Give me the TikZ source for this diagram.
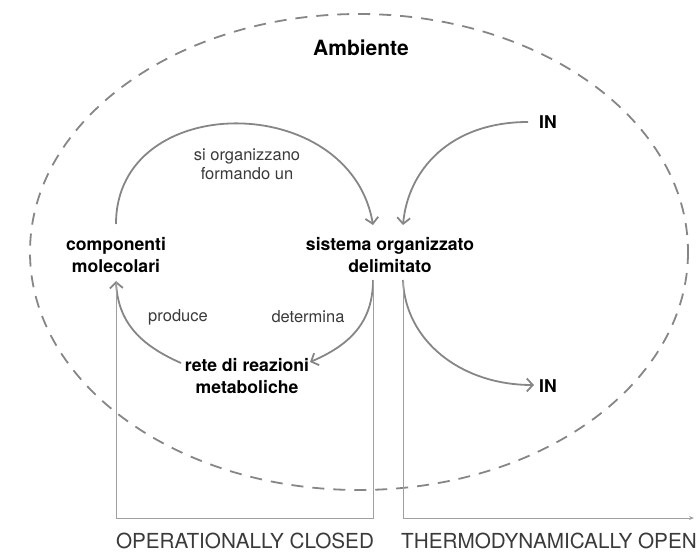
\documentclass[tikz,border=0pt]{standalone}
\usepackage{fontspec}
\setmainfont{TeX Gyre Heros}
\usetikzlibrary{arrows.meta}
\definecolor{linegray}{HTML}{868686}
\definecolor{boxgray}{HTML}{A0A0A0}
\definecolor{textgray}{HTML}{3A3A3A}
\begin{document}
\begin{tikzpicture}[x=1pt,y=-1pt,
  concept/.style={font=\bfseries\fontsize{17.6}{22}\selectfont, align=center, inner sep=0pt},
  verb/.style={font=\fontsize{16.5}{19}\selectfont, text=textgray, align=center, inner sep=0pt},
  caption/.style={font=\fontsize{20.7}{24}\selectfont, text=textgray, inner sep=0pt},
  flow/.style={draw=linegray, line width=1.8pt, -{Straight Barb[length=6pt,width=13pt,line width=1.8pt]}},
  frame/.style={draw=boxgray, line width=1pt},
  env/.style={draw=linegray, line width=1.8pt, dash pattern=on 12pt off 9pt}]
  \useasboundingbox (0,0) rectangle (699,554);

  % environment boundary
  \draw[env] (359,252) ellipse [x radius=329, y radius=238];
  \node[font=\bfseries\fontsize{21}{24}\selectfont] (amb) at (361,48) {Ambiente};

  % concepts
  \node[concept] (comp) at (116,255) {componenti\\molecolari};
  \node[concept] (sist) at (390,255) {sistema organizzato\\delimitato};
  \node[concept] (rete) at (247,376) {rete di reazioni\\metaboliche};
  \node[concept] (inA) at (548,122) {IN};
  \node[concept] (inB) at (548,386) {IN};

  % verbs
  \node[verb] (org) at (247,164) {si organizzano\\formando un};
  \node[verb] (prod) at (178,317) {produce};
  \node[verb] (det) at (308,317) {determina};

  % anchor points of the connectors
  \coordinate (compTop) at (116,224);
  \coordinate (compBot) at (116,281);
  \coordinate (sistTopL) at (373,225);
  \coordinate (sistTopR) at (403,225);
  \coordinate (sistBotL) at (373,280);
  \coordinate (sistBotR) at (403,280);
  \coordinate (reteR) at (310,362);
  \coordinate (reteL) at (181,363);
  \coordinate (inAW) at (528,122);
  \coordinate (inBW) at (534,385);

  % cycle
  \draw[flow] (compTop) .. controls (116,90) and (350,90) .. (sistTopL);
  \draw[flow] (inAW) .. controls (450,122) and (408,170) .. (sistTopR);
  \draw[flow] (sistBotL) .. controls (373,322) and (350,345) .. (reteR);
  \draw[flow] (reteL) .. controls (140,345) and (118,322) .. (compBot);
  \draw[flow] (sistBotR) .. controls (405,340) and (460,385) .. (inBW);

  % brackets
  \coordinate (cl1) at (116,518);
  \coordinate (cl2) at (373,518);
  \coordinate (op1) at (403,518);
  \coordinate (op2) at (694,518);
  \draw[frame] (compBot) -- (cl1) -- (cl2) -- (sistBotL);
  \draw[frame, -{Stealth[length=5pt,width=4pt]}] (sistBotR) -- (op1) -- (op2);

  \node[caption] (closed) at (245,541) {OPERATIONALLY CLOSED};
  \node[caption] (open) at (549,541) {THERMODYNAMICALLY OPEN};
\end{tikzpicture}
\end{document}
